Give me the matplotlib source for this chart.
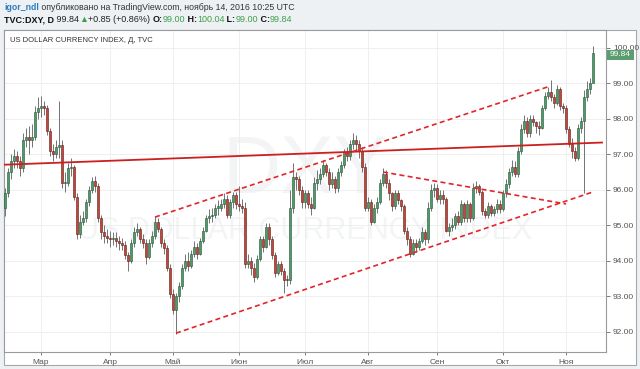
import matplotlib
matplotlib.use('Agg')
import matplotlib.pyplot as plt
from matplotlib.patches import Rectangle
import numpy as np
import pandas as pd

plt.rcParams['font.family'] = ['Liberation Sans', 'DejaVu Sans']

# ---------------- data (daily OHLC, TVC:DXY, 2016-02-12 .. 2016-11-14) ----------------
dates = pd.bdate_range('2016-02-12', '2016-11-14')

opens = [
    95.5, 95.9, 96.5, 96.8, 96.95, 96.8, 96.6, 97.4, 97.5, 97.4, 97.5, 98.2,
    98.3, 98.35, 98.3, 97.65, 97.1, 97.0, 97.2, 97.25, 96.2, 96.2, 96.6, 96.65, 95.8, 94.75, 95.1, 95.2, 95.65, 96.0, 96.25, 96.1, 95.2, 94.8, 94.7,
    94.65, 94.6, 94.65, 94.55, 94.5, 94.45, 94.15, 94.0, 94.5, 94.8, 94.9, 94.6, 94.5, 94.1, 94.5, 94.7, 95.1, 94.9, 94.5, 94.35, 93.8,
    93.05, 92.6, 93.0, 93.3, 93.8, 94.0, 93.85, 94.2, 94.4, 94.2, 94.55, 94.85, 95.2, 95.25, 95.3, 95.5, 95.5, 95.6, 95.75, 95.3, 95.65, 95.85,
    95.6, 95.55, 95.5, 93.9, 94.0, 93.8, 93.55, 94.05, 94.6, 94.4, 94.95, 94.6, 94.15, 93.65, 93.9, 93.7, 93.5, 93.45, 95.5, 96.35, 96.3, 96.0,
    95.65, 95.9, 95.6, 95.5, 96.2, 96.3, 96.45, 96.7, 96.5, 96.15, 96.3, 96.05, 96.5, 96.7, 97.05, 96.95, 97.3, 97.4, 97.3, 97.1, 96.65,
    95.5, 95.65, 95.1, 95.5, 95.65, 96.2, 96.45, 96.2, 95.9, 95.55, 95.9, 95.7, 95.55, 94.85, 94.6, 94.2, 94.5, 94.4, 94.55, 94.8, 94.6, 95.5, 96.0,
    96.05, 95.75, 95.85, 95.75, 94.85, 94.95, 95.0, 95.25, 95.1, 95.6, 95.2, 95.6, 95.2, 96.05, 96.1, 95.95, 95.4, 95.3, 95.55, 95.35, 95.45, 95.6,
    95.45, 95.9, 96.15, 96.5, 96.65, 96.45, 97.1, 97.7, 97.95, 97.6, 98.0, 97.9, 97.8, 97.75, 98.3, 98.65, 98.75, 98.6, 98.45, 98.85, 98.35,
    98.3, 97.7, 97.3, 97.1, 96.9, 97.75, 97.95, 98.6, 98.85, 99.0,
]
highs = [
    96.05, 96.6, 97.0, 97.15, 97.1, 96.95, 97.6, 97.75, 97.8, 97.85, 98.35, 98.6,
    98.65, 98.5, 98.4, 97.75, 97.3, 97.4, 98.5, 97.4, 96.5, 96.75, 96.9, 96.7, 95.9, 95.3, 95.4, 95.75, 96.1, 96.35, 96.4, 96.2, 95.3, 95.0, 94.9,
    94.85, 94.8, 94.8, 94.7, 94.65, 94.55, 94.25, 94.6, 94.95, 95.05, 94.95, 94.75, 94.6, 94.6, 94.85, 95.25, 95.2, 94.95, 94.6, 94.45, 93.9,
    93.2, 93.1, 93.4, 93.9, 94.2, 94.25, 94.3, 94.55, 94.5, 94.65, 94.95, 95.3, 95.45, 95.5, 95.6, 95.7, 95.75, 95.9, 95.85, 95.75, 95.95, 95.95,
    96.1, 95.75, 95.65, 94.2, 94.1, 93.95, 94.15, 94.7, 94.7, 95.05, 95.05, 94.7, 94.25, 94.0, 94.0, 93.8, 93.6, 96.0, 96.75, 96.5, 96.4, 96.1,
    96.0, 96.0, 95.8, 96.35, 96.55, 96.6, 96.85, 96.75, 96.6, 96.5, 96.4, 96.6, 96.8, 97.15, 97.2, 97.4, 97.6, 97.55, 97.4, 97.2, 96.75,
    95.8, 95.75, 95.6, 95.8, 96.3, 96.6, 96.55, 96.3, 95.95, 96.0, 96.0, 95.75, 95.6, 94.95, 94.7, 94.6, 94.6, 94.65, 94.95, 94.9, 95.65, 96.15, 96.2,
    96.15, 96.0, 96.0, 95.8, 95.05, 95.2, 95.35, 95.4, 95.7, 95.65, 95.7, 95.65, 96.2, 96.25, 96.15, 96.0, 95.5, 95.65, 95.6, 95.55, 95.75, 95.7,
    96.0, 96.3, 96.6, 96.85, 96.8, 97.2, 97.85, 98.1, 98.05, 98.1, 98.1, 97.95, 97.95, 98.4, 98.75, 98.9, 99.1, 98.7, 98.95, 98.9, 98.45,
    98.4, 97.8, 97.45, 97.2, 97.85, 98.05, 98.8, 99.05, 99.15, 100.04,
]
lows = [
    95.25, 95.8, 96.3, 96.6, 96.6, 96.4, 96.5, 97.2, 97.0, 97.2, 97.4, 98.0,
    98.05, 98.1, 97.55, 96.95, 96.8, 96.9, 96.9, 96.05, 95.95, 96.1, 96.4, 95.7, 94.6, 94.65, 95.0, 95.1, 95.55, 95.9, 95.95, 95.1, 94.6, 94.5, 94.5,
    94.4, 94.45, 94.4, 94.3, 94.3, 94.05, 93.7, 93.95, 94.4, 94.7, 94.5, 94.35, 93.9, 94.05, 94.4, 94.6, 94.8, 94.4, 94.2, 93.7, 92.95,
    92.5, 91.95, 92.85, 93.2, 93.7, 93.7, 93.8, 94.1, 94.05, 94.15, 94.5, 94.8, 95.05, 95.1, 95.2, 95.3, 95.4, 95.5, 95.2, 95.2, 95.5, 95.45,
    95.4, 95.35, 93.8, 93.8, 93.6, 93.4, 93.5, 94.0, 94.25, 94.35, 94.45, 94.05, 93.55, 93.6, 93.6, 93.1, 93.3, 93.35, 95.35, 96.0, 95.85, 95.5,
    95.5, 95.5, 95.3, 95.45, 96.0, 96.15, 96.35, 96.4, 96.0, 96.05, 95.9, 95.95, 96.4, 96.6, 96.8, 96.85, 97.15, 97.1, 96.9, 96.5, 95.4,
    95.4, 95.0, 95.05, 95.35, 95.6, 96.1, 96.05, 95.7, 95.4, 95.45, 95.6, 95.4, 94.75, 94.45, 94.1, 94.15, 94.25, 94.3, 94.5, 94.45, 94.5, 95.4, 95.8,
    95.65, 95.6, 95.6, 94.8, 94.7, 94.85, 94.9, 95.0, 95.0, 95.1, 95.1, 95.1, 95.15, 95.9, 95.85, 95.3, 95.2, 95.2, 95.25, 95.25, 95.35, 95.35,
    95.4, 95.8, 96.05, 96.4, 96.35, 96.35, 97.0, 97.6, 97.5, 97.5, 97.8, 97.6, 97.55, 97.7, 98.25, 98.55, 98.5, 98.3, 98.4, 98.25, 98.15,
    97.6, 97.2, 96.9, 96.8, 96.85, 97.6, 95.9, 98.5, 98.7, 99.0,
]
closes = [
    95.9, 96.5, 96.8, 96.95, 96.8, 96.6, 97.4, 97.5, 97.4, 97.5, 98.2, 98.3,
    98.35, 98.3, 97.65, 97.1, 97.0, 97.2, 97.25, 96.2, 96.2, 96.6, 96.65, 95.8, 94.75, 95.1, 95.2, 95.65, 96.0, 96.25, 96.1, 95.2, 94.8, 94.7, 94.65,
    94.6, 94.65, 94.55, 94.5, 94.45, 94.15, 94.0, 94.5, 94.8, 94.9, 94.6, 94.5, 94.1, 94.5, 94.7, 95.1, 94.9, 94.5, 94.35, 93.8, 93.05,
    92.6, 93.0, 93.3, 93.8, 94.0, 93.85, 94.2, 94.4, 94.2, 94.55, 94.85, 95.2, 95.25, 95.3, 95.5, 95.5, 95.6, 95.75, 95.3, 95.65, 95.85, 95.6,
    95.55, 95.5, 93.9, 94.0, 93.8, 93.55, 94.05, 94.6, 94.4, 94.95, 94.6, 94.15, 93.65, 93.9, 93.7, 93.45, 93.45, 95.5, 96.35, 96.3, 96.0, 95.65,
    95.9, 95.6, 95.5, 96.2, 96.3, 96.45, 96.7, 96.5, 96.15, 96.3, 96.05, 96.5, 96.7, 97.05, 96.95, 97.3, 97.4, 97.3, 97.1, 96.65, 95.5,
    95.65, 95.1, 95.5, 95.65, 96.2, 96.45, 96.2, 95.9, 95.55, 95.9, 95.7, 95.55, 94.85, 94.6, 94.2, 94.5, 94.4, 94.55, 94.8, 94.6, 95.5, 96.0, 96.05,
    95.75, 95.85, 95.75, 94.85, 94.95, 95.0, 95.25, 95.1, 95.6, 95.2, 95.6, 95.2, 96.05, 96.1, 95.95, 95.4, 95.3, 95.55, 95.35, 95.45, 95.6, 95.45,
    95.9, 96.15, 96.5, 96.65, 96.45, 97.1, 97.7, 97.95, 97.6, 98.0, 97.9, 97.8, 97.75, 98.3, 98.65, 98.75, 98.6, 98.45, 98.85, 98.35, 98.3,
    97.7, 97.3, 97.1, 96.9, 97.75, 97.95, 98.6, 98.85, 99.0, 99.84,
]

month_labels = ['Мар', 'Апр', 'Май', 'Июн', 'Июл', 'Авг', 'Сен', 'Окт', 'Ноя']
price_ticks = [92, 93, 94, 95, 96, 97, 98, 99, 100]

# drawn trend lines: (date, price) endpoints
horizontal_line = [('2016-02-10', 96.70), ('2016-11-17', 97.33)]
upper_channel = [('2016-04-22', 95.23), ('2016-10-24', 98.90)]
lower_channel = [('2016-05-03', 91.96), ('2016-11-14', 95.94)]
triangle_top = [('2016-08-08', 96.50), ('2016-11-01', 95.60)]

last_price = 99.84

# ---------------- figure ----------------
W, H = 640, 369
fig = plt.figure(figsize=(W / 100, H / 100), dpi=100, facecolor='#eef1f4')

def fx(px):
    return px / W

def fy(py):
    return 1 - py / H

fig.patches.append(Rectangle((fx(4), fy(365)), (636 - 4) / W, (365 - 30) / H,
                             transform=fig.transFigure, facecolor='white',
                             edgecolor='#a8a8a8', lw=0.8, zorder=-5))

ax = fig.add_axes([fx(4), fy(352), (606 - 4) / W, (352 - 30) / H])
ax.set_zorder(1)
ax.set_facecolor('white')

n = len(closes)
xs = np.arange(n)

def date_to_x(d):
    d = pd.Timestamp(d)
    return float(np.busday_count(dates[0].date(), d.date()))

# watermark
ax.text(0.5, 0.56, 'DXY', transform=ax.transAxes, ha='center', va='center',
        fontsize=58, color='#f2f4f6', zorder=0)
ax.text(0.5, 0.375, 'US DOLLAR CURRENCY INDEX', transform=ax.transAxes, ha='center',
        va='center', fontsize=22, color='#f2f4f6', zorder=0)

# candles
o = np.array(opens); h = np.array(highs); l = np.array(lows); c = np.array(closes)
up = c >= o
ax.vlines(xs, l, h, color='#737375', lw=0.7, zorder=2)
body_lo = np.minimum(o, c)
body_h = np.maximum(np.abs(c - o), 0.03)
ax.bar(xs[up], body_h[up], bottom=body_lo[up], width=0.7, color='#4f9a66',
       edgecolor='#225437', linewidth=0.4, zorder=3)
ax.bar(xs[~up], body_h[~up], bottom=body_lo[~up], width=0.7, color='#c2463a',
       edgecolor='#5b1a13', linewidth=0.4, zorder=3)

# trend lines
def draw_line(pts, **kw):
    xx = [date_to_x(p[0]) for p in pts]
    yy = [p[1] for p in pts]
    ax.plot(xx, yy, **kw)

draw_line(horizontal_line, color='#cc1f1f', lw=1.3, zorder=4)
for pts in (upper_channel, lower_channel, triangle_top):
    draw_line(pts, color='#e3242b', lw=1.2, dashes=(3, 2), zorder=4)

ax.set_xlim(-0.33, 200.33)
ax.set_ylim(91.43, 100.50)

# ticks
month_pos = []
prev = None
for i, d in enumerate(dates):
    if prev is not None and d.month != prev:
        month_pos.append(i)
    prev = d.month
ax.set_xticks(month_pos)
ax.set_xticklabels(month_labels)
ax.set_yticks(price_ticks)
ax.set_yticklabels([f'{v:.2f}' for v in price_ticks])
ax.yaxis.tick_right()
ax.tick_params(axis='both', labelsize=6, colors='#666', length=3, width=0.6, pad=2)
ax.tick_params(axis='x', labelcolor='#555', length=2, pad=3)
ax.tick_params(axis='y', labelcolor='#555')
ax.grid(True, color='#ececec', lw=0.6, zorder=0)
ax.set_axisbelow(True)
for s in ax.spines.values():
    s.set_color('#9a9a9a')
    s.set_linewidth(0.8)

# legend text
ax.text(6 / 602, 1 - 11 / 322, 'US DOLLAR CURRENCY INDEX, Д, TVC', transform=ax.transAxes,
        fontsize=5.5, color='#333', ha='left', va='center')

# last price label
fig.patches.append(Rectangle((fx(607), fy(60)), 27 / W, 10 / H, transform=fig.transFigure,
                             facecolor='#5a9e6f', edgecolor='none', zorder=5))
fig.text(fx(620.5), fy(55), f'{last_price:.2f}', color='white', fontsize=6,
         ha='center', va='center', zorder=6)

# header
renderer = fig.canvas.get_renderer()

def seq_text(x_px, y_px, parts, size):
    x = x_px
    for s, color, weight in parts:
        t = fig.text(fx(x), fy(y_px), s, color=color, fontsize=size, fontweight=weight,
                     va='baseline', ha='left')
        bb = t.get_window_extent(renderer=renderer)
        x += bb.width

green = '#3f9f4a'
seq_text(4, 10.5, [('igor_ndl', '#2b7bbf', 'bold'),
                   (' опубликовано на TradingView.com, ноябрь 14, 2016 10:25 UTC', '#333', 'normal')], 6.3)
seq_text(4, 22.5, [('TVC:DXY, D', '#111', 'bold'), (' 99.84', '#222', 'normal'),
                   ('▲', green, 'normal'), ('+0.85 (+0.86%) ', '#222', 'normal'),
                   ('O:', '#111', 'bold'), ('99.00', green, 'normal'),
                   (' H:', '#111', 'bold'), ('100.04', green, 'normal'),
                   (' L:', '#111', 'bold'), ('99.00', green, 'normal'),
                   (' C:', '#111', 'bold'), ('99.84', green, 'normal')], 6.5)

fig.savefig('out.png', dpi=100, facecolor=fig.get_facecolor())
